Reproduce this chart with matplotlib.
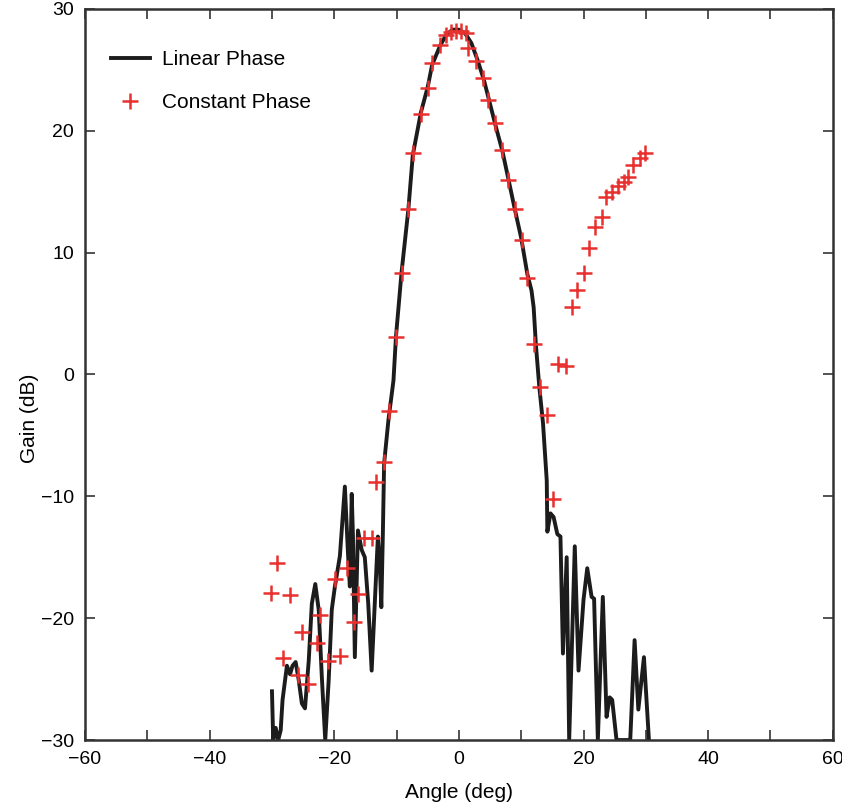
import matplotlib
matplotlib.use('Agg')
import matplotlib.pyplot as plt
from matplotlib.ticker import MultipleLocator, FuncFormatter

plt.rcParams['font.family'] = ['Liberation Sans', 'DejaVu Sans']

# Linear phase pattern
lin_angle = [-30.0, -29.8, -29.4, -29.0, -28.6, -28.3, -27.6, -27.1, -26.7, -26.2,
             -25.7, -25.2, -24.7, -24.1, -23.6, -23.05, -22.5, -22.0, -21.45, -20.9,
             -20.4, -19.9, -19.1, -18.3, -17.8, -17.5, -17.2, -17.0, -16.7, -16.2,
             -15.6, -15.1, -14.55, -14.0, -13.5, -13.0, -12.7, -12.45, -12.2, -12.0,
             -11.3, -10.5, -10.1, -9.2, -8.1, -7.4, -6.1, -5.0, -4.3, -3.0,
             -2.0, -1.0, 0.0, 1.0, 2.0, 3.0, 4.0, 5.0, 6.0, 7.0,
             8.0, 9.0, 10.0, 11.0, 11.65, 12.0, 12.35, 12.9, 13.5, 14.1,
             14.2, 14.7, 15.2, 15.8, 16.3, 16.7, 17.3, 17.7, 18.6, 19.2,
             20.0, 20.6, 21.3, 21.7, 22.3, 23.1, 23.7, 24.2, 24.6, 25.3,
             27.5, 28.2, 28.8, 29.7, 30.5]
lin_gain = [-26.0, -30.0, -29.0, -30.0, -29.2, -26.7, -23.9, -24.6, -23.9, -23.6,
            -25.1, -27.0, -27.4, -23.5, -18.8, -17.2, -19.3, -24.8, -30.0, -25.1,
            -19.3, -17.4, -14.9, -9.2, -14.7, -17.4, -9.8, -13.3, -23.2, -12.8,
            -14.4, -15.0, -18.8, -24.3, -18.8, -13.3, -15.5, -19.1, -13.0, -7.3,
            -3.7, -0.5, 3.1, 8.4, 13.6, 18.0, 21.5, 23.6, 25.4, 27.0,
            27.9, 28.3, 28.3, 28.0, 27.2, 25.8, 24.2, 22.2, 20.2, 18.3,
            15.9, 13.5, 11.2, 8.2, 6.9, 5.5, 2.5, -1.0, -4.0, -8.7,
            -12.9, -11.4, -11.7, -13.1, -13.3, -22.9, -15.0, -30.0, -14.1, -24.3,
            -18.5, -15.9, -18.25, -18.4, -30.0, -18.25, -28.1, -26.5, -26.7, -30.0,
            -30.0, -21.8, -27.5, -23.2, -30.0]

# Constant phase samples
const_angle = [-30.1, -29.2, -28.2, -27.1, -25.9, -25.2, -24.2, -22.8, -22.3, -21.0,
               -19.9, -19.1, -18.0, -16.9, -16.2, -15.2, -13.9, -13.3, -12.0, -11.2,
               -10.1, -9.2, -8.1, -7.4, -6.1, -5.0, -4.3, -3.05, -2.0, -1.2,
               -0.4, 0.4, 1.1, 1.5, 2.8, 3.9, 4.7, 5.8, 6.9, 7.9,
               9.0, 10.1, 10.9, 12.0, 13.0, 14.2, 15.1, 15.9, 17.2, 18.1,
               19.0, 20.0, 20.9, 21.8, 22.9, 23.6, 24.5, 25.6, 26.5, 27.2,
               28.0, 29.0, 29.8]
const_gain = [-17.9, -15.5, -23.3, -18.1, -24.7, -21.1, -25.4, -22.0, -19.7, -23.5,
              -16.8, -23.1, -15.9, -20.3, -18.0, -13.4, -13.4, -8.8, -7.2, -3.0,
              3.1, 8.35, 13.6, 18.2, 21.4, 23.5, 25.6, 27.0, 27.9, 28.1,
              28.2, 28.2, 28.0, 26.8, 25.7, 24.3, 22.5, 20.6, 18.4, 16.0,
              13.6, 11.0, 7.9, 2.5, -1.0, -3.3, -10.2, 0.9, 0.7, 5.5,
              6.9, 8.35, 10.35, 12.1, 12.95, 14.6, 15.0, 15.5, 15.8, 16.2,
              17.2, 17.8, 18.2]

fig = plt.figure(figsize=(8.42, 8.11), dpi=100)
ax = fig.add_axes([0.101, 0.0875, 0.888, 0.9015])

ax.plot(lin_angle, lin_gain, color='#1c1c1c', lw=2.8, label='Linear Phase')
ax.plot(const_angle, const_gain, ls='none', marker='+', ms=11, mew=1.8,
        color='#e8302e', label='Constant Phase')

ax.set_xlim(-60, 60)
ax.set_ylim(-30, 30)
ax.xaxis.set_major_locator(MultipleLocator(10))
ax.yaxis.set_major_locator(MultipleLocator(10))
ax.xaxis.set_major_formatter(FuncFormatter(
    lambda v, p: '' if int(round(v)) % 20 else f'{int(round(v))}'.replace('-', '\u2212')))
ax.yaxis.set_major_formatter(FuncFormatter(
    lambda v, p: f'{int(round(v))}'.replace('-', '\u2212')))
ax.tick_params(direction='in', length=7, width=1.3, color='#444444',
               top=True, right=True, labelsize=14, pad=8)
for s in ax.spines.values():
    s.set_linewidth(1.8)
    s.set_color('#333333')

ax.set_xlabel('Angle (deg)', fontsize=15, labelpad=11)
ax.set_ylabel('Gain (dB)', fontsize=15)
ax.yaxis.set_label_coords(-0.061, 0.44)

ax.legend(loc='upper left', bbox_to_anchor=(0.007, 0.972), frameon=False,
          fontsize=15, handlelength=1.85, labelspacing=1.15, handletextpad=0.6,
          borderaxespad=0.6)

fig.savefig('out.png', dpi=100)
